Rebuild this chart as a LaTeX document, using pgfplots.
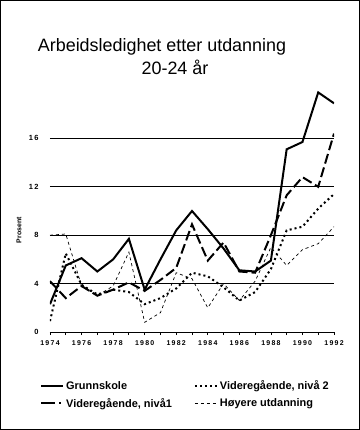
\documentclass[border=0pt]{standalone}
\usepackage{fontspec}
\setmainfont{Liberation Sans}
\newfontfamily\tickfont[LetterSpace=18]{Liberation Sans}
\usepackage{pgfplots}
\pgfplotsset{compat=1.18}
\begin{document}
\begin{tikzpicture}
\useasboundingbox (0bp,0bp) rectangle (360bp,430bp);
\draw[line width=1bp] (0.5bp,0.5bp) rectangle (359.5bp,429.5bp);
\node[anchor=base, font=\fontsize{18}{20}\selectfont] at (162bp,378bp) {Arbeidsledighet etter utdanning};
\node[anchor=base, font=\fontsize{18}{20}\selectfont] at (175bp,355bp) {20-24 år};
\begin{axis}[
  at={(50bp,98bp)}, anchor=south west,
  scale only axis, width=284bp, height=242bp,
  xmin=1974, xmax=1992, ymin=0, ymax=20,
  axis x line*=bottom, axis y line*=left,
  y axis line style={draw=none},
  x axis line style={line width=1bp},
  xtick={1974,1976,...,1992}, minor xtick={1975,1977,...,1991},
  tick align=outside, major tick length=3bp, minor tick length=3bp,
  tick style={black, line width=0.8bp},
  ytick={0,4,8,12,16}, ytick style={draw=none},
  ymajorgrids, grid style={black, line width=0.8bp},
  /pgf/number format/assume math mode=true,
  x tick label style={font=\tickfont\bfseries\fontsize{7}{8}\selectfont, /pgf/number format/1000 sep={}, yshift=-2bp},
  y tick label style={font=\tickfont\bfseries\fontsize{7.5}{8}\selectfont, xshift=-5bp},
  ylabel={Prosent},
  ylabel style={font=\bfseries\fontsize{7}{8}\selectfont, at={(rel axis cs:-0.109,0.42)}, anchor=center},
  legend columns=2, transpose legend,
  legend cell align=left,
  legend image code/.code={\draw[#1] (0bp,0bp) -- (22bp,0bp);},
  legend style={at={(rel axis cs:-0.0352,-0.192)}, anchor=north west, draw=none, fill=none,
    inner sep=0pt, row sep=3bp, font=\bfseries\fontsize{11}{13}\selectfont,
    /tikz/every even column/.append style={column sep=20bp}},
]
\addplot[black, line width=2bp] coordinates {
(1974,2.3) (1975,5.5) (1976,6.1) (1977,5.0) (1978,6.0) (1979,7.7) (1980,3.5)
(1981,6.0) (1982,8.4) (1983,10.0) (1984,8.5) (1985,6.9) (1986,5.1) (1987,5.0)
(1988,5.9) (1989,15.1) (1990,15.7) (1991,19.8) (1992,18.9)};
\addlegendentry{Grunnskole}
\addplot[black, line width=2bp, dash pattern=on 10bp off 4bp,
  legend image code/.code={\draw[black, line width=2bp, dash pattern=on 14bp off 4bp on 2bp off 4bp] (0bp,0bp) -- (22bp,0bp);}] coordinates {
(1974,4.2) (1975,2.8) (1976,3.8) (1977,3.0) (1978,3.5) (1979,4.1) (1980,3.4)
(1981,4.3) (1982,5.3) (1983,8.9) (1984,5.9) (1985,7.4) (1986,5.0) (1987,4.9)
(1988,8.0) (1989,11.3) (1990,12.8) (1991,12.0) (1992,16.4)};
\addlegendentry{Videregående, nivå1}
\addplot[black, line width=2bp, dash pattern=on 2bp off 3bp] coordinates {
(1974,0.9) (1975,6.5) (1976,3.9) (1977,3.1) (1978,3.5) (1979,3.3) (1980,2.3)
(1981,2.8) (1982,3.6) (1983,4.9) (1984,4.6) (1985,3.7) (1986,2.6) (1987,3.3)
(1988,5.2) (1989,8.4) (1990,8.7) (1991,10.2) (1992,11.4)};
\addlegendentry{Videregående, nivå 2}
\addplot[black, line width=0.7bp, dash pattern=on 3bp off 3bp] coordinates {
(1974,8.0) (1975,8.1) (1976,3.8) (1977,3.0) (1978,3.8) (1979,6.6) (1980,0.8)
(1981,1.6) (1982,4.9) (1983,4.4) (1984,2.0) (1985,4.0) (1986,2.6) (1987,4.2)
(1988,7.0) (1989,5.5) (1990,6.8) (1991,7.3) (1992,8.7)};
\addlegendentry{Høyere utdanning}
\end{axis}
\end{tikzpicture}
\end{document}
